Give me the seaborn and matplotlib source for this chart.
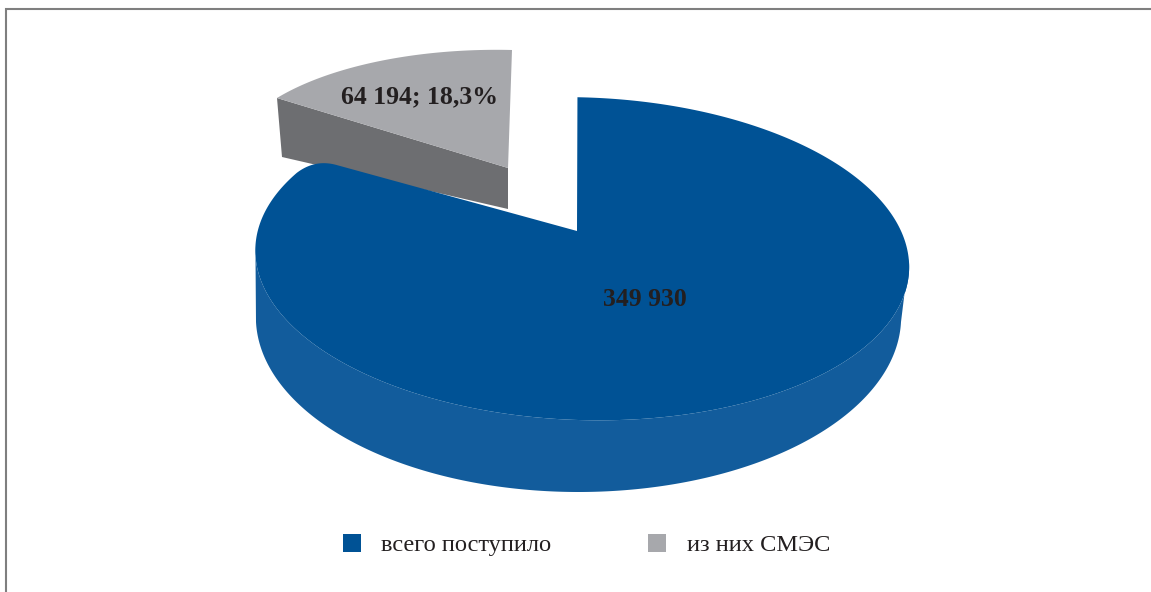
import numpy as np
import matplotlib
matplotlib.use("Agg")
import matplotlib.pyplot as plt
from matplotlib.patches import Patch, Polygon
import seaborn as sns

# Series values and their labels
categories = ["всего поступило", "из них СМЭС"]
values = [349930, 64194]
value_labels = ["349 930", "64 194; 18,3%"]
colors_top = ["#005295", "#A7A8AC"]
colors_side = ["#125C9C", "#6D6E71"]

sns.set_theme(style="white")
plt.rcParams["font.family"] = ["Liberation Serif", "DejaVu Serif"]
TEXT = "#231F20"
FRAME = "#7F7F7F"


def fit_homography(src, dst):
    """Least-squares plane projection taking src points to dst points."""
    rows, rhs = [], []
    for (x, y), (u, v) in zip(src, dst):
        rows.append([x, y, 1, 0, 0, 0, -u * x, -u * y])
        rows.append([0, 0, 0, x, y, 1, -v * x, -v * y])
        rhs += [u, v]
    h = np.linalg.lstsq(np.array(rows, float), np.array(rhs, float), rcond=None)[0]
    return np.append(h, 1.0).reshape(3, 3)


def project(h, pts):
    pts = np.c_[pts, np.ones(len(pts))] @ h.T
    return pts[:, :2] / pts[:, 2:]


def ring(deg):
    rad = np.radians(np.atleast_1d(deg))
    return np.c_[np.cos(rad), np.sin(rad)]


def round_corner(rim, next_point, dist):
    """End the rim on a quadratic curve that meets the straight edge to next_point."""
    corner = rim[-1]
    keep = rim[np.hypot(*(rim - corner).T) > dist]
    p0 = keep[-1]
    direction = (next_point - corner) / np.hypot(*(next_point - corner))
    p2 = corner + direction * dist
    t = np.linspace(0, 1, 25)[:, None]
    curve = (1 - t) ** 2 * p0 + 2 * t * (1 - t) * corner + t ** 2 * p2
    return np.vstack([keep, curve])


# Pie angles, clockwise from twelve o'clock
fractions = np.array(values, float) / np.sum(values)
split_deg = 90 - 360 * fractions[0]          # boundary between the two slices
mid_small = (split_deg + 360 + 90) / 2       # middle of the small slice
edge_point = ring(split_deg)[0]

# Perspective of the main rim, of the lower rim and of the detached slice
rim_view = fit_homography(
    [(0, 1), (0, -1), edge_point, (1, 0), (-1, 0)],
    [(572, 98), (585, 415), (324, 149), (911, 262), (250, 258)],
)
base_view = fit_homography(
    [(0, 1), (0, -1), (1, 0), (-1, 0)],
    [(578, 142), (578, 492), (901, 322), (256, 322)],
)
small_view = fit_homography(
    [(0, 0), (0, 1), edge_point, ring(mid_small)[0]],
    [(508, 168), (512, 50), (277, 98), (380, 61)],
)

fig = plt.figure(figsize=(11.51, 5.92), dpi=100)
ax = fig.add_axes([0, 0, 1, 1])
ax.set_xlim(0, 1151)
ax.set_ylim(592, 0)
ax.axis("off")

# Border along the top and left
ax.plot([6.5, 6.5, 1151], [592, 8.5, 8.5], color=FRAME, lw=1.5, solid_joinstyle="miter", zorder=1)

# Detached slice: rear wall, then top face
small_apex = project(small_view, np.zeros((1, 2)))[0]
small_arc = project(small_view, ring(np.linspace(split_deg + 360, 90, 200)))
tip = small_arc[0]
ax.add_patch(Polygon([tip, small_apex, small_apex + (0, 41), tip + (5, 59)],
                     closed=True, fc=colors_side[1], ec="none", zorder=2))
ax.add_patch(Polygon(np.vstack([[small_apex], small_arc]), closed=True,
                     fc=colors_top[1], ec="none", zorder=3))

# Main slice: side wall, then top face
front_deg = np.linspace(0, -180, 400)
wall = np.vstack([project(rim_view, ring(front_deg)), project(base_view, ring(front_deg))[::-1]])
ax.add_patch(Polygon(wall, closed=True, fc=colors_side[0], ec="none", zorder=4))

main_apex = np.array([577.0, 231.0])
rim = project(rim_view, ring(np.linspace(90, split_deg, 500)))
face = np.vstack([round_corner(rim, main_apex, 22), [main_apex]])
ax.add_patch(Polygon(face, closed=True, fc=colors_top[0], ec="none", zorder=5))

# Value labels
ax.text(644.5, 299, value_labels[0], ha="center", va="center", fontsize=18.5,
        fontweight="bold", color=TEXT, zorder=6)
ax.text(420, 97, value_labels[1], ha="center", va="center", fontsize=18.5,
        fontweight="bold", color=TEXT, zorder=6)

# Legend
handles = [Patch(fc=c, ec="none") for c in colors_top]
ax.legend(handles, categories, loc="center", bbox_to_anchor=(586.5 / 1151, 1 - 545 / 592),
          ncol=2, frameon=False, fontsize=17.6, labelcolor=TEXT, handlelength=0.74, handleheight=0.74,
          handletextpad=0.82, columnspacing=3.97)

fig.savefig("out.png", dpi=100, facecolor="white")
